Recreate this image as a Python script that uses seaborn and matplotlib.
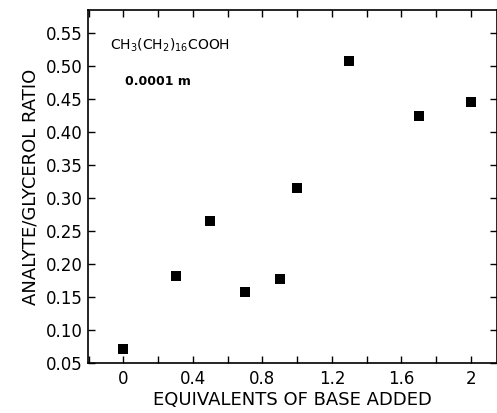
import matplotlib
matplotlib.use("Agg")
import matplotlib.pyplot as plt
import seaborn as sns
import pandas as pd
from matplotlib.ticker import MultipleLocator

equivalents = [0.0, 0.3, 0.5, 0.7, 0.9, 1.0, 1.3, 1.7, 2.0]
ratio = [0.072, 0.183, 0.266, 0.158, 0.178, 0.316, 0.508, 0.425, 0.445]
x_ticks = [0, 0.4, 0.8, 1.2, 1.6, 2.0]
x_tick_labels = ["0", "0.4", "0.8", "1.2", "1.6", "2"]
y_ticks = [0.05, 0.10, 0.15, 0.20, 0.25, 0.30, 0.35, 0.40, 0.45, 0.50, 0.55]

df = pd.DataFrame({"eq": equivalents, "ratio": ratio})

sns.set_style("ticks")
plt.rcParams["font.family"] = ["DejaVu Sans"]
plt.rcParams["text.color"] = "black"
plt.rcParams["axes.labelcolor"] = "black"
plt.rcParams["xtick.color"] = "black"
plt.rcParams["ytick.color"] = "black"

fig = plt.figure(figsize=(4.97, 4.13), dpi=100)
ax = fig.add_axes([0.177, 0.12, 0.823, 0.856])
sns.scatterplot(data=df, x="eq", y="ratio", marker="s", s=42, color="black",
                edgecolor="black", linewidth=0, ax=ax)

ax.set_xlim(-0.204, 2.15)
ax.set_ylim(0.05, 0.585)
ax.set_xticks(x_ticks)
ax.set_xticklabels(x_tick_labels)
ax.xaxis.set_minor_locator(MultipleLocator(0.2))
ax.set_yticks(y_ticks)
ax.set_yticklabels([f"{v:.2f}" for v in y_ticks])
ax.tick_params(which="both", direction="in", top=True, right=True,
               labelsize=12, color="black", labelcolor="black", width=1.0)
ax.tick_params(which="major", length=5)
ax.tick_params(which="minor", length=5)
ax.tick_params(axis="x", pad=5)
for sp in ax.spines.values():
    sp.set_linewidth(1.2)
    sp.set_color("black")

ax.set_xlabel("EQUIVALENTS OF BASE ADDED", fontsize=13, labelpad=2)
ax.set_ylabel("ANALYTE/GLYCEROL RATIO", fontsize=13, labelpad=5)

ax.text(0.054, 0.925, r"CH$_3$(CH$_2$)$_{16}$COOH", transform=ax.transAxes,
        fontsize=10, ha="left", va="top")
ax.text(0.091, 0.815, "0.0001 m", transform=ax.transAxes,
        fontsize=9, ha="left", va="top", fontweight="bold")

fig.savefig("out.png", dpi=100)
